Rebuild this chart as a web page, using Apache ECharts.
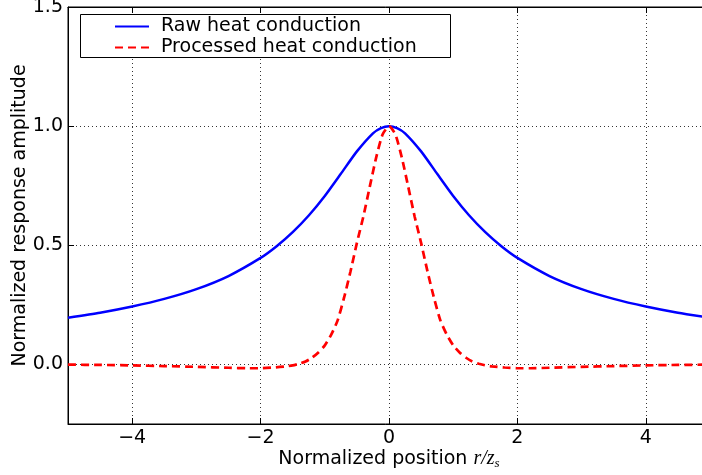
<!DOCTYPE html>
<html>
<head>
<meta charset="utf-8">
<script src="https://cdn.jsdelivr.net/npm/echarts@6/dist/echarts.min.js"></script>
<style>html,body{margin:0;padding:0;background:#fff;}#c{width:702px;height:475px;}</style>
</head>
<body>
<div id="c"></div>
<script>
var seriesNames = ['Raw heat conduction', 'Processed heat conduction'];
var xRaw = [-5,-4.5,-4,-3.5,-3,-2.5,-2,-1.75,-1.5,-1.25,-1,-0.75,-0.5,-0.25,-0.125,0,0.125,0.25,0.5,0.75,1,1.25,1.5,1.75,2,2.5,3,3.5,4,4.5,5];
var yRaw = [0.196,0.217,0.243,0.275,0.316,0.371,0.447,0.496,0.555,0.625,0.707,0.8,0.894,0.97,0.992,1.0,0.992,0.97,0.894,0.8,0.707,0.625,0.555,0.496,0.447,0.371,0.316,0.275,0.243,0.217,0.196];
var xProc = [-5,-4.5,-4,-3.5,-3,-2.5,-2.2,-2,-1.8,-1.6,-1.5,-1.4,-1.3,-1.2,-1.1,-1,-0.9,-0.8,-0.7,-0.6,-0.5,-0.4,-0.3,-0.2,-0.1,0,0.1,0.2,0.3,0.4,0.5,0.6,0.7,0.8,0.9,1,1.1,1.2,1.3,1.4,1.5,1.6,1.8,2,2.2,2.5,3,3.5,4,4.5,5];
var yProc = [-0.001,-0.002,-0.004,-0.007,-0.01,-0.014,-0.016,-0.016,-0.013,-0.008,-0.004,0.003,0.012,0.028,0.05,0.08,0.125,0.185,0.28,0.39,0.51,0.62,0.745,0.868,0.965,1.0,0.965,0.868,0.745,0.62,0.51,0.39,0.28,0.185,0.125,0.08,0.05,0.028,0.012,0.003,-0.004,-0.008,-0.013,-0.016,-0.016,-0.014,-0.01,-0.007,-0.004,-0.002,-0.001];
var xTicks = [-4,-2,0,2,4];
var yTicks = [0,0.5,1.0,1.5];

function pairs(xs, ys){ return xs.map(function(x,i){ return [x, ys[i]]; }); }
function fmtY(v){ return v.toFixed(1); }
function fmtX(v){ return v < 0 ? '\u2212' + Math.abs(v) : String(v); }

var FONT = 'DejaVu Sans';
var chart = echarts.init(document.getElementById('c'), null, {renderer:'canvas'});
chart.setOption({
  animation: false,
  backgroundColor: '#fff',
  grid: {left: 68, top: 7, bottom: 51, right: -8, containLabel: false, outerBoundsMode: 'none',
         show: true, borderColor: '#000', borderWidth: 1, backgroundColor: 'transparent'},
  graphic: [{
    type: 'rect', z: 50, silent: true,
    shape: {x: 80.5, y: 14.5, width: 370, height: 43},
    style: {fill: '#fff', stroke: '#000', lineWidth: 1}
  }],
  legend: {
    data: seriesNames, z: 60,
    orient: 'vertical', left: 80, top: 16,
    padding: [0, 30, 0, 34],
    itemGap: 0, itemWidth: 34, itemHeight: 14,
    itemStyle: {opacity: 0},
    textStyle: {fontFamily: FONT, fontSize: 19, color: '#000', lineHeight: 21, padding: [0,0,0,7]}
  },
  xAxis: [{
    type: 'value', min: -5, max: 5,
    axisLine: {show: true, onZero: false, lineStyle: {color: '#000', width: 1}},
    axisTick: {show: true, inside: true, length: 6, customValues: xTicks, lineStyle: {color: '#000'}},
    axisLabel: {customValues: xTicks, formatter: fmtX, fontFamily: FONT, fontSize: 19, color: '#000', margin: 5},
    splitLine: {show: true, lineStyle: {color: '#000', type: [1,3], width: 0.8}},
    name: 'Normalized position {i|r/z}{s|s}',
    nameLocation: 'middle', nameGap: 24, nameMoveOverlap: false,
    nameTextStyle: {fontFamily: FONT, fontSize: 19, color: '#000',
      rich: {i: {fontFamily: 'Liberation Serif', fontStyle: 'italic', fontSize: 20, color: '#000'},
             s: {fontFamily: 'Liberation Serif', fontStyle: 'italic', fontSize: 13, color: '#000', padding: [9,0,0,0]}}}
  }, {
    type: 'value', min: -5, max: 5, position: 'top',
    axisLine: {show: true, onZero: false, lineStyle: {color: '#000', width: 1}},
    axisTick: {show: true, inside: true, length: 6, customValues: xTicks, lineStyle: {color: '#000'}},
    axisLabel: {show: false},
    splitLine: {show: false}
  }],
  yAxis: {
    type: 'value', min: -0.25, max: 1.5,
    axisLine: {show: true, onZero: false, lineStyle: {color: '#000', width: 1}},
    axisTick: {show: true, inside: true, length: 6, customValues: yTicks, lineStyle: {color: '#000'}},
    axisLabel: {customValues: yTicks, formatter: fmtY, fontFamily: FONT, fontSize: 19, color: '#000', margin: 5},
    splitLine: {show: true, lineStyle: {color: '#000', type: [1,3], width: 0.8}},
    name: 'Normalized response amplitude',
    nameLocation: 'middle', nameGap: 38, nameRotate: 90, nameMoveOverlap: false,
    nameTextStyle: {fontFamily: FONT, fontSize: 19, color: '#000'}
  },
  series: [{
    name: seriesNames[0], type: 'line', data: pairs(xRaw, yRaw),
    showSymbol: false, symbol: 'none', smooth: 0.2,
    lineStyle: {color: '#0000ff', width: 2.5}, itemStyle: {color: '#0000ff'}
  }, {
    name: seriesNames[1], type: 'line', data: pairs(xProc, yProc),
    showSymbol: false, symbol: 'none', smooth: 0.2,
    lineStyle: {color: '#ff0000', width: 2.7, type: [8,5]}, itemStyle: {color: '#ff0000'}
  }]
});
</script>
</body>
</html>
